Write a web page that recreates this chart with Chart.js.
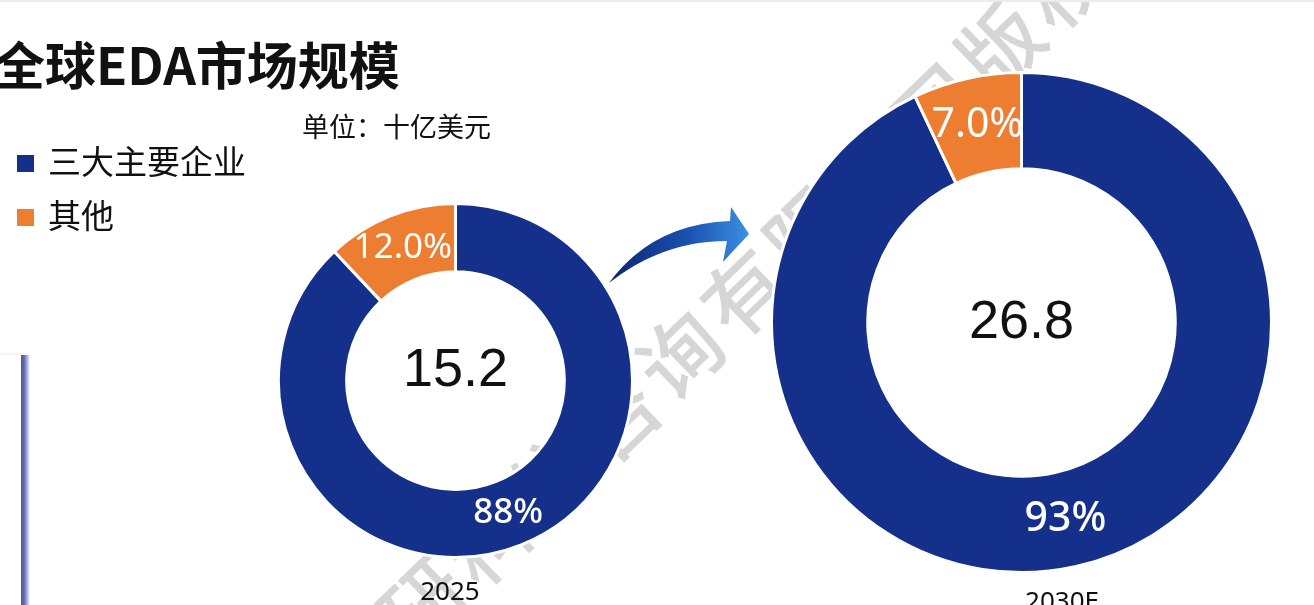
<!DOCTYPE html>
<html>
<head>
<meta charset="utf-8">
<script src="https://cdn.jsdelivr.net/npm/chart.js@4.4.1/dist/chart.umd.min.js"></script>
<style>
  html, body { margin:0; padding:0; background:#fff; }
  body { width:1314px; height:605px; overflow:hidden; position:relative; font-family:"Noto Sans CJK SC","Noto Sans",sans-serif; color:#111; }
  .abs { position:absolute; }
  #topline { left:0; top:0; width:1314px; height:2px; background:#ececec; }
  #sideline { left:21px; top:355px; width:9px; height:250px;
    background:linear-gradient(to right,#4c579a 0%,#5f6aac 35%,#b9bfe8 75%,rgba(255,255,255,0) 100%); }
  #sidetick { left:0; top:353px; width:22px; height:2px; background:#f4f4f4; }
  #title { left:-6px; top:38px; font-size:51px; font-weight:700; line-height:51px; white-space:nowrap; }
  #unit { left:302px; top:111px; font-size:27px; line-height:30px; white-space:nowrap; }
  .leg { left:17px; white-space:nowrap; font-size:33px; line-height:36px; }
  .leg .sw { display:inline-block; width:17px; height:17px; vertical-align:middle; margin-right:14px; position:relative; top:-2px; }
  .yr { font-family:"Noto Sans",sans-serif; font-size:26px; line-height:30px; white-space:nowrap; transform:translateX(-50%); }
  canvas.donut { position:absolute; }
</style>
</head>
<body>
<canvas id="wm" class="abs" width="1314" height="605" style="left:0;top:0"></canvas>
<div id="topline" class="abs"></div>
<div id="sidetick" class="abs"></div>
<div id="sideline" class="abs"></div>
<div id="title" class="abs"></div>
<div id="unit" class="abs"></div>
<div id="legend"></div>
<canvas id="c0" class="donut" width="357" height="357" style="left:277px;top:202px"></canvas>
<canvas id="c1" class="donut" width="503" height="503" style="left:770px;top:71px"></canvas>
<div id="yr0" class="abs yr" style="left:450px;top:575px"></div>
<div id="yr1" class="abs yr" style="left:1062px;top:585px"></div>
<svg class="abs" style="left:0;top:0" width="1314" height="605">
  <defs>
    <linearGradient id="ag" x1="608" y1="0" x2="750" y2="0" gradientUnits="userSpaceOnUse">
      <stop offset="0" stop-color="#0b2570"/>
      <stop offset="0.55" stop-color="#1a4fae"/>
      <stop offset="1" stop-color="#3b91e3"/>
    </linearGradient>
  </defs>
  <path d="M 609 283 Q 652 224 730 221 L 731 207 L 749 234 L 723 262 L 727 241 Q 662 241 609 283 Z" fill="url(#ag)"/>
</svg>

<script>
// ---- data ----
const titleText   = '全球EDA市场规模';
const unitText    = '单位：十亿美元';
const seriesNames = ['三大主要企业', '其他'];
const seriesColors = ['#15308A', '#ED7D31'];
const years       = ['2025', '2030E'];
const totals      = [15.2, 26.8];
const majorShare  = [88, 93];
const otherShare  = [12.0, 7.0];
const watermark   = '北京智研科信咨询有限公司版权所有';

// ---- static text ----
document.getElementById('title').textContent = titleText;
document.getElementById('unit').textContent = unitText;
const legendTops = [142, 196];
const legendEl = document.getElementById('legend');
seriesNames.forEach((n, i) => {
  const d = document.createElement('div');
  d.className = 'abs leg';
  d.style.top = legendTops[i] + 'px';
  d.innerHTML = '<span class="sw" style="background:' + seriesColors[i] + '"></span>' + n;
  legendEl.appendChild(d);
});
years.forEach((y, i) => { document.getElementById('yr' + i).textContent = y; });

// ---- watermark ----
(function () {
  const ctx = document.getElementById('wm').getContext('2d');
  ctx.save();
  ctx.translate(680, 355);
  ctx.rotate(-44 * Math.PI / 180);
  ctx.fillStyle = '#d6d6d6';
  ctx.font = '500 82px "Noto Sans CJK SC"';
  ctx.textAlign = 'center';
  ctx.textBaseline = 'middle';
  const k = watermark.indexOf('询');
  for (let i = 0; i < watermark.length; i++) {
    ctx.fillText(watermark[i], (i - k) * 89, 0);
  }
  ctx.restore();
})();

// ---- charts ----
const labelFontSize = [35, 41];
const centerOffsetY = [-9, 1];
const fmt = [v => v + '%', v => v.toFixed(1) + '%'];
const labelWeight = ['500', '400'];

const segLabels = {
  id: 'segLabels',
  afterDatasetsDraw(chart, args, opts) {
    const ctx = chart.ctx;
    const meta = chart.getDatasetMeta(0);
    const ds = chart.data.datasets[0];
    ctx.save();
    ctx.fillStyle = '#ffffff';
    ctx.textAlign = 'center';
    ctx.textBaseline = 'middle';
    meta.data.forEach((arc, j) => {
      const p = arc.getCenterPoint();
      ctx.font = labelWeight[j] + ' ' + opts.size + 'px "Noto Sans"';
      ctx.fillText(fmt[j](ds.data[j]), p.x, p.y);
    });
    const a = chart.chartArea;
    ctx.fillStyle = '#111111';
    ctx.font = '54px "Liberation Sans", Arial, sans-serif';
    ctx.fillText(String(opts.total), (a.left + a.right) / 2, (a.top + a.bottom) / 2 + opts.dy);
    ctx.restore();
  }
};

years.forEach((y, i) => {
  new Chart(document.getElementById('c' + i), {
    type: 'doughnut',
    data: {
      labels: seriesNames,
      datasets: [{
        data: [majorShare[i], otherShare[i]],
        backgroundColor: seriesColors,
        borderColor: '#ffffff',
        borderWidth: 3,
        hoverBorderWidth: 3,
        hoverOffset: 0
      }]
    },
    options: {
      responsive: false,
      animation: false,
      cutout: '61.5%',
      layout: { padding: 0 },
      events: [],
      plugins: {
        legend: { display: false },
        tooltip: { enabled: false },
        segLabels: { size: labelFontSize[i], total: totals[i], dy: centerOffsetY[i] }
      }
    },
    plugins: [segLabels]
  });
});
</script>
</body>
</html>
